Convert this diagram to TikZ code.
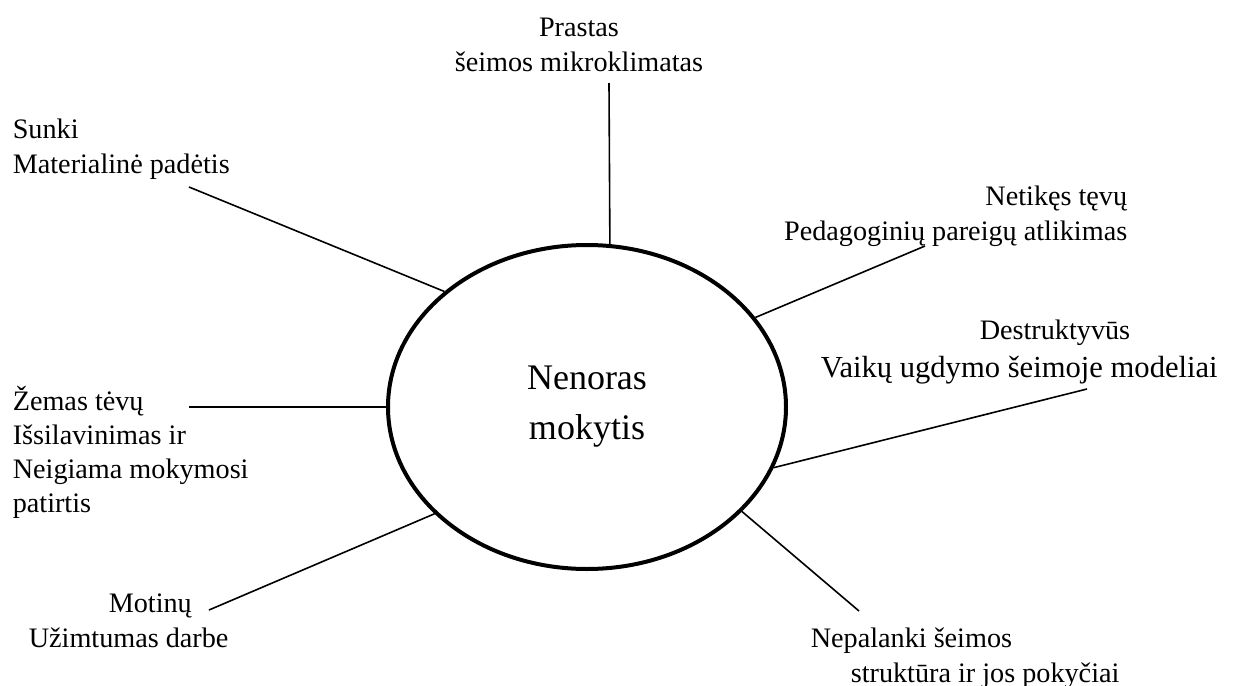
\documentclass[tikz,border=0pt]{standalone}
\usepackage{fontspec}
\setmainfont{Liberation Serif}
\usetikzlibrary{shapes}

\begin{document}
\begin{tikzpicture}[x=0.5pt,y=-0.5pt,line width=0.8pt]
    \tikzstyle{cause}=[inner sep=0pt,text=black,font=\fontsize{14.1}{17.25}\selectfont]
    \tikzstyle{core}=[draw,ellipse,line width=2pt,inner sep=0pt,minimum width=199pt,minimum height=162pt,align=center,font=\fontsize{18}{25}\selectfont]

    \useasboundingbox (0,0) rectangle (1244,686);

    \node[core] (N) at (587,407) {Nenoras\\mokytis};

    \node[cause,anchor=base,align=center]  (prastas) at (579,71)  {Prastas\\šeimos mikroklimatas};
    \node[cause,anchor=base west,align=left]  (sunki) at (12,173)  {Sunki\\Materialinė padėtis};
    \node[cause,anchor=base east,align=right] (netikes) at (1128,240) {Netikęs tęvų\\Pedagoginių pareigų atlikimas};
    \node[cause,anchor=base west,align=left]  (destr) at (820,377) {\hspace*{79.5pt}Destruktyvūs\\[1.3pt]{\fontsize{15.3}{17.25}\selectfont Vaikų ugdymo šeimoje modeliai}};
    \node[cause,anchor=base west,align=left]  (zemas) at (12,512) {Žemas tėvų\\[-0.4pt]Išsilavinimas ir\\[-0.4pt]Neigiama mokymosi\\[-0.4pt]patirtis};
    \node[cause,anchor=base west,align=left]  (motinu) at (28,647) {\hspace*{40pt}Motinų\\Užimtumas darbe};
    \node[cause,anchor=base west,align=left]  (nepal) at (810,682) {Nepalanki šeimos\\\hspace*{20pt}struktūra ir jos pokyčiai};

    % free ends of the spokes
    \coordinate (ptop) at (609,83);
    \coordinate (psunki) at (189,187);
    \coordinate (pnet) at (925,246);
    \coordinate (pdes) at (1087,389);
    \coordinate (pzem) at (189,407);
    \coordinate (pmot) at (209,610);
    \coordinate (pnep) at (859,611);

    \path
     (N.82.3) edge (ptop)
     (N.141.5) edge (psunki)
     (N.28.7) edge (pnet)
     (N.-18.3) edge (pdes)
     (N.180) edge (pzem)
     (N.215) edge (pmot)
     (N.-34.8) edge (pnep);
\end{tikzpicture}
\end{document}
